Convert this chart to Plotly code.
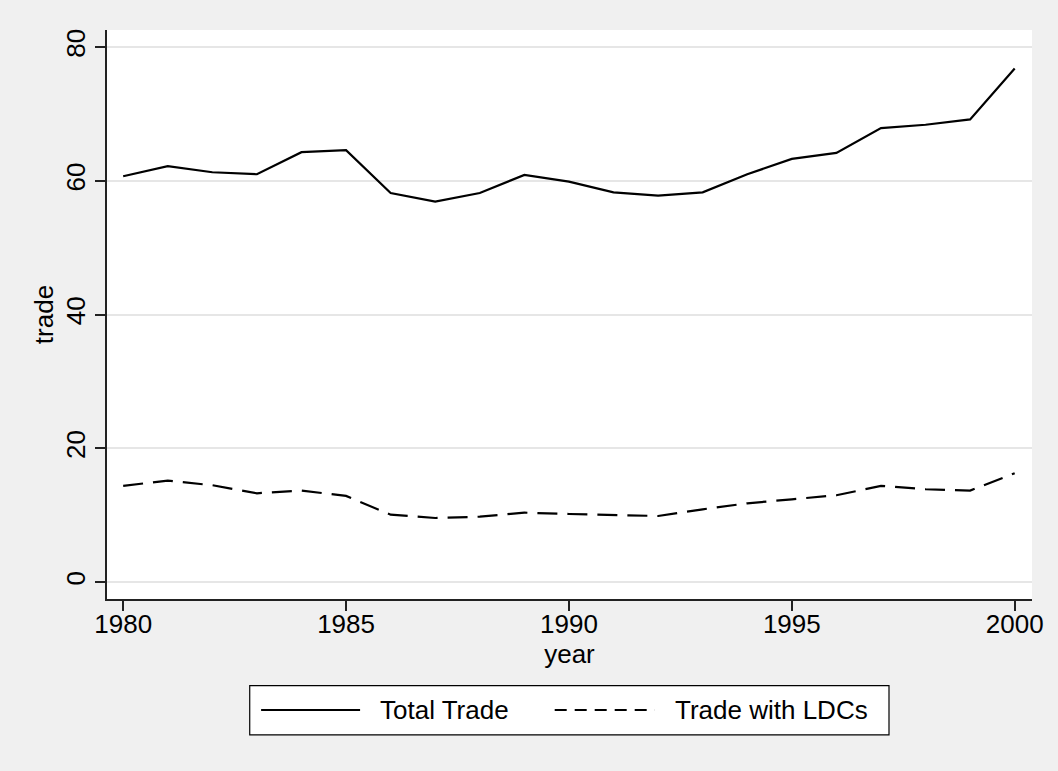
import plotly.graph_objects as go

years = list(range(1980, 2001))
total_trade = [60.7, 62.2, 61.3, 61.0, 64.3, 64.6, 58.2, 56.9, 58.2, 60.9,
               59.9, 58.3, 57.8, 58.3, 61.0, 63.3, 64.2, 67.9, 68.4, 69.2, 76.8]
trade_ldcs = [14.4, 15.2, 14.5, 13.3, 13.7, 12.9, 10.1, 9.6, 9.8, 10.4,
              10.2, 10.0, 9.9, 10.9, 11.8, 12.4, 13.0, 14.4, 13.9, 13.7, 16.3]
x_ticks = [1980, 1985, 1990, 1995, 2000]
y_ticks = [0, 20, 40, 60, 80]
series_names = ["Total Trade", "Trade with LDCs"]

FONT = "Liberation Sans, Arial, Helvetica, sans-serif"

fig = go.Figure()
fig.add_trace(go.Scatter(x=years, y=total_trade, mode="lines", name=series_names[0],
                         line=dict(color="black", width=2.2), showlegend=False))
fig.add_trace(go.Scatter(x=years, y=trade_ldcs, mode="lines", name=series_names[1],
                         line=dict(color="black", width=2.2, dash="20px,10px"), showlegend=False))

fig.update_layout(
    width=1058, height=771,
    margin=dict(l=107, r=26, t=30, b=172),
    paper_bgcolor="#f0f0f0", plot_bgcolor="white",
    font=dict(family=FONT, size=26, color="black"),
    showlegend=False,
)
fig.update_xaxes(
    range=[1979.637, 2000.388], tickvals=x_ticks, ticks="outside", ticklen=10,
    tickwidth=1.5, tickcolor="#222", showline=True, linecolor="#222", linewidth=1.5,
    showgrid=False, zeroline=False, tickfont=dict(size=26), ticklabelstandoff=-9,
    title=dict(text="year", font=dict(size=26), standoff=6),
)
fig.update_yaxes(
    range=[-2.51, 82.57], tickvals=y_ticks, ticks="outside", ticklen=10,
    tickwidth=1.5, tickcolor="#222", showline=True, linecolor="#222", linewidth=1.5,
    showgrid=True, gridcolor="#e6e6e6", gridwidth=2, zeroline=False,
    tickangle=-90, tickfont=dict(size=26), ticklabelstandoff=0,
    title=dict(text="trade", font=dict(size=26), standoff=0),
)

# custom legend (paper coordinates)
fig.add_shape(type="rect", xref="paper", yref="paper", x0=0.1543, x1=0.8454,
              y0=-0.2388, y1=-0.1522, line=dict(color="black", width=1.2), fillcolor="white")
fig.add_shape(type="line", xref="paper", yref="paper", x0=0.1666, x1=0.2736,
              y0=-0.1949, y1=-0.1949, line=dict(color="black", width=2))
fig.add_shape(type="line", xref="paper", yref="paper", x0=0.484, x1=0.5922,
              y0=-0.1949, y1=-0.1949, line=dict(color="black", width=2, dash="12px,8px"))
fig.add_annotation(xref="paper", yref="paper", x=0.2926, y=-0.1949, text=series_names[0],
                   showarrow=False, xanchor="left", yanchor="middle", font=dict(size=26))
fig.add_annotation(xref="paper", yref="paper", x=0.6122, y=-0.1949, text=series_names[1],
                   showarrow=False, xanchor="left", yanchor="middle", font=dict(size=26))

fig.write_html("out.html", config={"displayModeBar": False},
               post_script="document.body.style.margin='0';")
